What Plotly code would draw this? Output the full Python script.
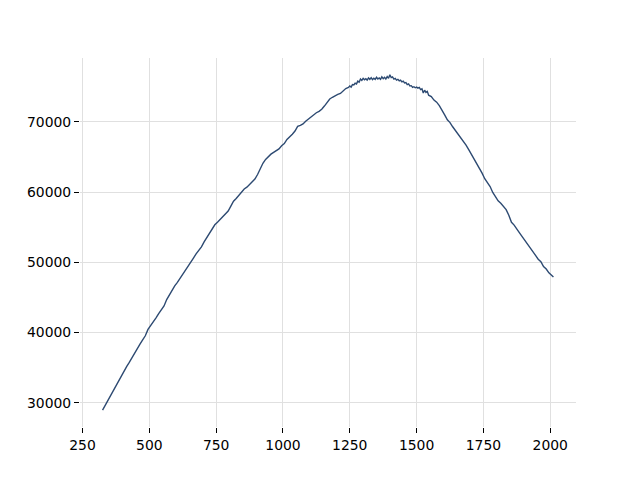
import plotly.graph_objects as go

x_values = [325, 335, 345, 355, 365, 375, 385, 395, 405, 415, 425, 435, 445, 455, 465, 475, 485, 495,
            505, 515, 525, 535, 545, 555, 565, 575, 585, 595, 605, 615, 625, 635, 645, 655, 665, 675,
            685, 695, 705, 715, 725, 735, 745, 755, 765, 775, 785, 795, 805, 815, 825, 835, 845, 855,
            865, 875, 885, 895, 905, 915, 925, 935, 945, 955, 965, 975, 985, 995, 1005, 1015, 1025,
            1035, 1045, 1055, 1065, 1075, 1085, 1095, 1105, 1115, 1125, 1135, 1145, 1155, 1165, 1175,
            1185, 1195, 1205, 1215, 1225, 1235,
            1245, 1250, 1255, 1260, 1265, 1270, 1275, 1280, 1285, 1290, 1295, 1300, 1305, 1310, 1315,
            1320, 1325, 1330, 1335, 1340, 1345, 1350, 1355, 1360, 1365, 1370, 1375, 1380, 1385, 1390,
            1395, 1400, 1405, 1410, 1415, 1420, 1425, 1430, 1435, 1440, 1445, 1450, 1455, 1460, 1465,
            1470, 1475, 1480, 1485, 1490, 1495, 1500, 1505, 1510, 1515, 1520, 1525, 1530, 1535, 1540,
            1545, 1555, 1565, 1575, 1585, 1595, 1605, 1615,
            1625, 1635, 1645, 1655, 1665, 1675, 1685, 1695, 1705, 1715, 1725, 1735, 1745, 1755, 1765,
            1775, 1785, 1795, 1805, 1815, 1825, 1835, 1845, 1855, 1865, 1875, 1885, 1895, 1905, 1915,
            1925, 1935, 1945, 1955, 1965, 1975, 1985, 1995, 2005, 2012]

y_values = [28950, 29650, 30400, 31050, 31750, 32300, 33000, 33700, 34400, 35150, 35750, 36450, 37100,
            37700, 38350, 38950, 39550, 40450, 40950, 41450, 42100, 42700, 43200, 43800, 44700, 45400,
            46100, 46650, 47150, 47700, 48250, 48850, 49450, 50000, 50600, 51200, 51700, 52200, 52900,
            53500, 54100, 54800, 55350, 55700, 56100, 56600, 56900, 57300, 58000, 58700, 59100, 59550,
            60050, 60450, 60700, 61050, 61400, 61850, 62500, 63350, 64100, 64650, 65100, 65400, 65650,
            65850, 66150, 66600, 66900, 67500, 67850, 68250, 68700, 69350, 69500, 69700, 70100, 70400,
            70750, 71000, 71300, 71500, 71800, 72250, 72800, 73250, 73500, 73750, 73900, 74050, 74400,
            74750,
            74900, 75100, 74950, 75300, 75250, 75500, 75400, 75800, 75650, 76100, 75900, 76200, 76000,
            76150, 75950, 76250, 76050, 76300, 76000, 76200, 76050, 76350, 76100, 76250, 76050, 76400,
            76150, 76350, 76100, 76450, 76200, 76700, 76300, 76400, 76100, 76200, 75950, 76050, 75850,
            75950, 75700, 75800, 75550, 75600, 75300, 75400, 75100, 75150, 74900, 75000, 74850, 74950,
            74800, 74900, 74600, 74700, 74100, 74500, 74200, 74350,
            73800, 73600, 73100, 72800, 72300, 71550, 71000, 70300,
            69900, 69300, 68800, 68250, 67700, 67250, 66700, 66050, 65400, 64750, 64100, 63350,
            62700, 61900, 61350, 60800, 59950, 59300, 58750, 58400, 57950, 57500, 56700, 55700, 55300,
            54650, 54200, 53650, 53150, 52600, 52050, 51500, 51000, 50450, 50100, 49400, 49050, 48500,
            48150, 47900]

x_ticks = [250, 500, 750, 1000, 1250, 1500, 1750, 2000]
y_ticks = [30000, 40000, 50000, 60000, 70000]

fig = go.Figure()
fig.add_trace(go.Scatter(x=x_values, y=y_values, mode="lines",
                         line=dict(color="#2d4a72", width=1.4), showlegend=False))

axis_common = dict(
    showgrid=True, gridcolor="#e0e0e0", gridwidth=1,
    showline=False, zeroline=False,
    ticks="outside", ticklen=5, tickwidth=1.1, tickcolor="#000000",
    tickfont=dict(family="DejaVu Sans", size=13.9, color="#000000"),
)
fig.update_xaxes(range=[240.6, 2096.4], tickvals=x_ticks,
                 ticktext=[str(v) for v in x_ticks], **axis_common)
fig.update_yaxes(range=[26560, 79090], tickvals=y_ticks,
                 ticktext=[str(v) for v in y_ticks], **axis_common)
fig.update_layout(
    width=640, height=480,
    margin=dict(l=72, r=72, t=50, b=61, pad=0),
    paper_bgcolor="#ffffff", plot_bgcolor="#ffffff",
)
fig.write_html("out.html")
